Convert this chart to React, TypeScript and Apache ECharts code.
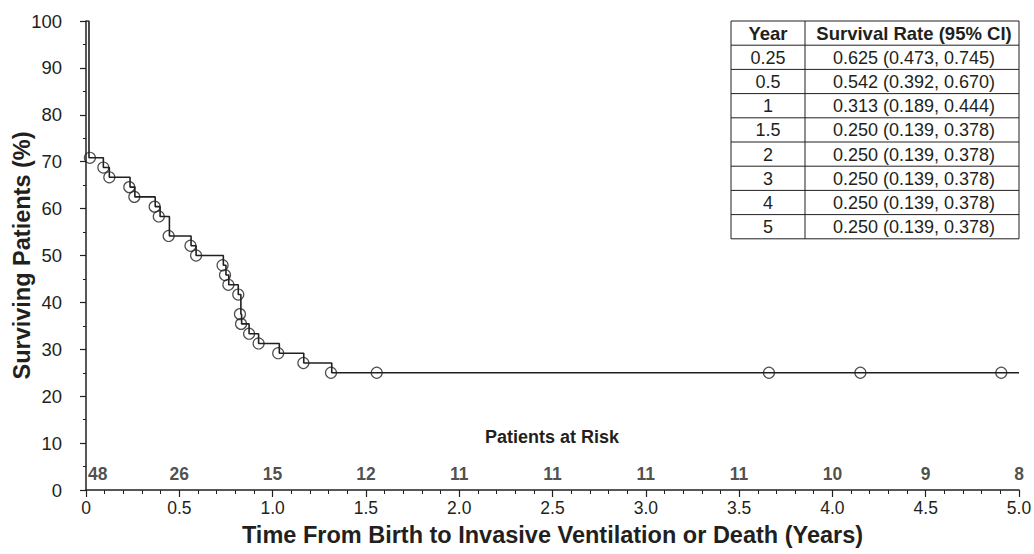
import React, { useEffect, useRef } from "react";
import * as echarts from "echarts";

// Kaplan-Meier step curve (time in years, survival %)
const kmTimes = [0, 0.016, 0.093, 0.125, 0.236, 0.262, 0.371, 0.397, 0.447, 0.563, 0.59, 0.736, 0.75, 0.765, 0.816, 0.83, 0.834, 0.874, 0.925, 1.036, 1.167, 1.317, 5.0];
const kmSurvival = [100, 70.83, 68.75, 66.67, 64.58, 62.5, 60.42, 58.33, 54.17, 52.08, 50.0, 47.92, 45.83, 43.75, 41.67, 37.5, 35.42, 33.33, 31.25, 29.17, 27.08, 25.0, 25.0];

// Circle marks
const markTimes = [0.021, 0.093, 0.125, 0.232, 0.259, 0.368, 0.39, 0.443, 0.56, 0.59, 0.732, 0.745, 0.763, 0.816, 0.825, 0.831, 0.874, 0.925, 1.03, 1.165, 1.313, 1.558, 3.66, 4.15, 4.905];
const markSurvival = [70.83, 68.75, 66.67, 64.58, 62.5, 60.42, 58.33, 54.17, 52.08, 50.0, 47.92, 45.83, 43.75, 41.67, 37.5, 35.42, 33.33, 31.25, 29.17, 27.08, 25, 25, 25, 25, 25];

// Patients at risk
const riskTimes = [0, 0.5, 1.0, 1.5, 2.0, 2.5, 3.0, 3.5, 4.0, 4.5, 5.0];
const riskCounts = [48, 26, 15, 12, 11, 11, 11, 11, 10, 9, 8];
const riskLevel = 3.4;

// Table
const tableHeader = ["Year", "Survival Rate (95% CI)"];
const tableYears = ["0.25", "0.5", "1", "1.5", "2", "3", "4", "5"];
const tableRates = [
  "0.625 (0.473, 0.745)",
  "0.542 (0.392, 0.670)",
  "0.313 (0.189, 0.444)",
  "0.250 (0.139, 0.378)",
  "0.250 (0.139, 0.378)",
  "0.250 (0.139, 0.378)",
  "0.250 (0.139, 0.378)",
  "0.250 (0.139, 0.378)",
];

const FONT = "Arial, 'Liberation Sans', Helvetica, sans-serif";
const INK = "#231f20";

function buildTable() {
  const left = 731;
  const right = 1019;
  const mid = 805;
  const top = 21;
  const rowH = 24.2;
  const nRows = tableYears.length + 1;
  const bottom = top + rowH * nRows;
  const els: any[] = [];
  els.push({
    type: "rect",
    shape: { x: left, y: top, width: right - left, height: bottom - top },
    style: { fill: "#fff", stroke: INK, lineWidth: 1 },
  });
  els.push({
    type: "line",
    shape: { x1: mid, y1: top, x2: mid, y2: bottom },
    style: { stroke: INK, lineWidth: 1 },
  });
  for (let i = 1; i < nRows; i++) {
    const y = top + rowH * i;
    els.push({
      type: "line",
      shape: { x1: left, y1: y, x2: right, y2: y },
      style: { stroke: INK, lineWidth: 1 },
    });
  }
  const rows = [tableHeader, ...tableYears.map((y, i) => [y, tableRates[i]])];
  rows.forEach((r, i) => {
    const cy = top + rowH * i + rowH / 2 + 0.5;
    const bold = i === 0;
    const font = bold ? `bold 18.5px ${FONT}` : `18px ${FONT}`;
    els.push({
      type: "text",
      x: (left + mid) / 2,
      y: cy,
      style: { text: r[0], fill: INK, font, textAlign: "center", textVerticalAlign: "middle" },
    });
    els.push({
      type: "text",
      x: (mid + right) / 2 + 2,
      y: cy,
      style: { text: r[1], fill: INK, font, textAlign: "center", textVerticalAlign: "middle" },
    });
  });
  return els;
}

export default function App() {
  const ref = useRef<HTMLDivElement>(null);
  useEffect(() => {
    if (!ref.current) return;
    const chart = echarts.init(ref.current, null, { renderer: "svg" });
    const option: any = {
      animation: false,
      backgroundColor: "#fff",
      grid: { left: 86, right: 15, top: 21, bottom: 64, containLabel: false, outerBoundsMode: "none" },
      xAxis: {
        type: "value",
        min: 0,
        max: 5,
        interval: 0.5,
        name: "Time From Birth to Invasive Ventilation or Death (Years)",
        nameLocation: "middle",
        nameGap: 33,
        nameMoveOverlap: false,
        nameTextStyle: { fontFamily: FONT, fontWeight: "bold", fontSize: 23.5, color: INK },
        axisLine: { show: true, lineStyle: { color: INK, width: 1.5 } },
        axisTick: { show: true, length: 7, lineStyle: { color: INK, width: 1.2 } },
        minorTick: { show: true, splitNumber: 5, length: 4, lineStyle: { color: INK, width: 1 } },
        axisLabel: {
          fontFamily: FONT,
          fontSize: 17.5,
          color: INK,
          margin: 9,
          formatter: (v: number) => (v === 0 ? "0" : v.toFixed(1)),
        },
        splitLine: { show: false },
      },
      yAxis: {
        type: "value",
        min: 0,
        max: 100,
        interval: 10,
        name: "Surviving Patients (%)",
        nameLocation: "middle",
        nameGap: 52,
        nameMoveOverlap: false,
        nameTextStyle: { fontFamily: FONT, fontWeight: "bold", fontSize: 23.5, color: INK },
        axisLine: { show: true, lineStyle: { color: INK, width: 1.5 } },
        axisTick: { show: true, length: 6, lineStyle: { color: INK, width: 1.2 } },
        minorTick: { show: true, splitNumber: 2, length: 3, lineStyle: { color: INK, width: 1 } },
        axisLabel: { fontFamily: FONT, fontSize: 18.5, color: INK, margin: 24 },
        splitLine: { show: false },
      },
      series: [
        {
          type: "line",
          step: "end",
          data: kmTimes.map((t, i) => [t, kmSurvival[i]]),
          showSymbol: false,
          symbol: "none",
          lineStyle: { color: INK, width: 1.6 },
          silent: true,
          z: 3,
        },
        {
          type: "scatter",
          data: markTimes.map((t, i) => [t, markSurvival[i]]),
          symbol: "circle",
          symbolSize: 11,
          itemStyle: { color: "rgba(0,0,0,0)", borderColor: INK, borderWidth: 1.2 },
          silent: true,
          z: 4,
        },
        {
          type: "scatter",
          data: riskTimes.map((t, i) => ({
            value: [t, riskLevel],
            label: i === 0 ? { align: "left", offset: [2, 0] } : undefined,
          })),
          symbolSize: 1,
          itemStyle: { color: "rgba(0,0,0,0)" },
          label: {
            show: true,
            position: "inside",
            fontFamily: FONT,
            fontWeight: "bold",
            fontSize: 17.5,
            color: INK,
            formatter: (p: any) => String(riskCounts[p.dataIndex]),
          },
          silent: true,
          z: 5,
        },
      ],
      graphic: [
        {
          type: "text",
          x: 552,
          y: 437,
          style: {
            text: "Patients at Risk",
            fill: INK,
            font: `bold 18px ${FONT}`,
            textAlign: "center",
            textVerticalAlign: "middle",
          },
        },
        ...buildTable(),
      ],
    };
    chart.setOption(option);
    return () => chart.dispose();
  }, []);
  return (
    <div
      ref={ref}
      style={{ position: "fixed", left: 0, top: 0, width: 1034, height: 554 }}
    />
  );
}
